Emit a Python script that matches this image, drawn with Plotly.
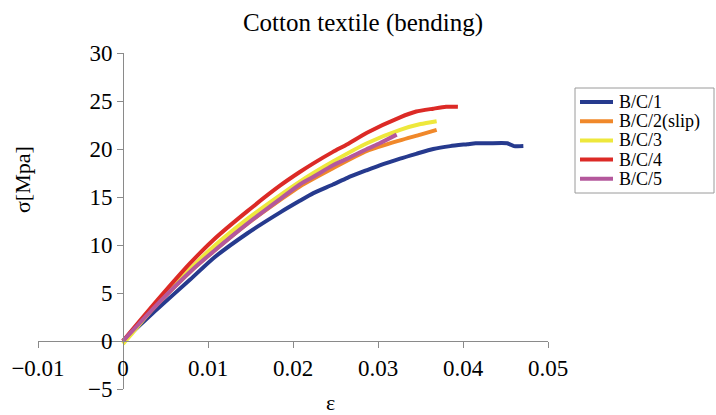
import plotly.graph_objects as go

# strain / stress readings for each specimen
eps_1 = [0, 0.004, 0.0079, 0.0106, 0.0146, 0.0185, 0.0208, 0.0224, 0.0247, 0.0264, 0.0287,
         0.0302, 0.0326, 0.0345, 0.0365, 0.0385, 0.0405, 0.0415, 0.043, 0.0452, 0.046, 0.0471]
sig_1 = [0, 3.3, 6.4, 8.6, 11.2, 13.4, 14.6, 15.4, 16.3, 17.0, 17.8,
         18.3, 19.0, 19.5, 20.0, 20.3, 20.5, 20.6, 20.6, 20.6, 20.3, 20.3]

eps_2 = [0, 0.004, 0.008, 0.0106, 0.0146, 0.0185, 0.0208, 0.0247, 0.0287, 0.0326, 0.035, 0.0369]
sig_2 = [0, 3.8, 7.3, 9.3, 12.2, 14.7, 16.1, 18.0, 19.8, 20.9, 21.5, 22.0]

eps_3 = [0, 0.001, 0.002, 0.004, 0.008, 0.0106, 0.0146, 0.0185, 0.0208, 0.0224, 0.0247,
         0.0287, 0.0326, 0.035, 0.0369]
sig_3 = [-0.3, 0.7, 1.8, 3.9, 7.6, 9.8, 12.7, 15.2, 16.6, 17.5, 18.7,
         20.6, 22.0, 22.6, 22.9]

eps_4 = [0, 0.004, 0.0079, 0.0106, 0.0146, 0.0185, 0.0208, 0.0224, 0.0247, 0.0264, 0.0287,
         0.0326, 0.0345, 0.0365, 0.038, 0.0394]
sig_4 = [0, 4.2, 8.1, 10.5, 13.5, 16.2, 17.6, 18.5, 19.7, 20.5, 21.7,
         23.3, 23.9, 24.2, 24.4, 24.4]

eps_5 = [0, 0.004, 0.008, 0.0106, 0.0146, 0.0185, 0.0208, 0.0224, 0.0247, 0.0264, 0.0287,
         0.0302, 0.0322]
sig_5 = [0, 3.8, 7.3, 9.3, 12.2, 14.8, 16.3, 17.1, 18.3, 19.0, 20.0,
         20.6, 21.5]

names = ['B/C/1', 'B/C/2(slip)', 'B/C/3', 'B/C/4', 'B/C/5']
colors = ['#263a8e', '#f0882a', '#eee83c', '#dc2a26', '#b4589c']

series = [(eps_1, sig_1), (eps_2, sig_2), (eps_3, sig_3), (eps_4, sig_4), (eps_5, sig_5)]

FONT = 'Liberation Serif'

# plot area in pixels: x 38..548, y 53..389
L, R, T, B = 38, 548, 53, 389


def px(x):
    return (x - L) / (R - L)


def py(y):
    return (B - y) / (B - T)


fig = go.Figure()
for (x, y), name, c in zip(series, names, colors):
    fig.add_trace(go.Scatter(x=x, y=y, mode='lines', name=name,
                             line=dict(color=c, width=4, shape='spline', smoothing=0.6)))

axis_style = dict(showgrid=False, zeroline=False, showline=True, linecolor='#8a8a8a',
                  linewidth=1, ticks='outside', ticklen=6, tickcolor='#8a8a8a',
                  automargin=False,
                  tickfont=dict(family=FONT, size=23, color='black'))

# hand-built legend box (Excel style, tight rows)
shapes = [dict(type='rect', xref='paper', yref='paper', x0=px(575), x1=px(714),
               y0=py(193), y1=py(88), line=dict(color='#9a9a9a', width=1),
               fillcolor='white', layer='above')]
annotations = []
for i, (name, c) in enumerate(zip(names, colors)):
    yy = 102 + i * 19.2
    shapes.append(dict(type='line', xref='paper', yref='paper', x0=px(580), x1=px(613),
                       y0=py(yy), y1=py(yy), line=dict(color=c, width=4), layer='above'))
    annotations.append(dict(text=name, xref='paper', yref='paper', x=px(617), y=py(yy),
                            xanchor='left', yanchor='middle', showarrow=False,
                            font=dict(family=FONT, size=18, color='black')))

annotations += [
    dict(text='ε', xref='paper', yref='paper', x=px(330), y=py(402),
         xanchor='center', yanchor='middle', showarrow=False,
         font=dict(family=FONT, size=22, color='black')),
    dict(text='σ[Mpa]', xref='paper', yref='paper', x=px(22), y=py(180),
         xanchor='center', yanchor='middle', showarrow=False, textangle=-90,
         font=dict(family=FONT, size=22, color='black')),
]

fig.update_layout(
    width=716, height=415,
    margin=dict(l=L, r=716 - R, t=T, b=415 - B, autoexpand=False),
    paper_bgcolor='white', plot_bgcolor='white',
    font=dict(family=FONT, color='black'),
    title=dict(text='Cotton textile (bending)', x=363 / 716, xref='container', xanchor='center',
               y=1 - 22 / 415, yref='container', yanchor='middle',
               font=dict(family=FONT, size=25, color='black')),
    xaxis=dict(range=[-0.01, 0.05], dtick=0.01, tick0=0, anchor='free', position=5 / 35,
               **axis_style),
    yaxis=dict(range=[-5, 30], dtick=5, anchor='free', position=1 / 6, **axis_style),
    showlegend=False,
    shapes=shapes,
    annotations=annotations,
)

# drop the browser's default body margin so the figure sits at the window's corner
fig.write_html("out.html", config={'displayModeBar': False},
               post_script="document.body.style.margin='0';")
